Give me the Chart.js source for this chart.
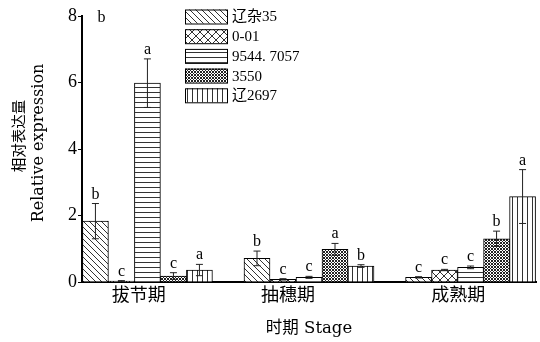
<!DOCTYPE html>
<html>
<head>
<meta charset="utf-8">
<script src="https://cdn.jsdelivr.net/npm/chart.js@4.4.1/dist/chart.umd.min.js"></script>
<style>
  html, body { margin: 0; padding: 0; background: #fff; }
  #wrap { width: 540px; height: 342px; position: relative; }
</style>
</head>
<body>
<div id="wrap"><canvas id="chart"></canvas></div>
<script>
// Stages and varieties
const stages = ['拔节期', '抽穗期', '成熟期'];
const varieties = ['辽杂35', '0-01', '9544. 7057', '3550', '辽2697'];

// Relative expression per variety, one value per stage
const liaoza35  = [1.83, 0.71, 0.14];
const v0_01     = [0.03, 0.08, 0.36];
const v9544     = [5.98, 0.14, 0.44];
const v3550     = [0.18, 0.98, 1.30];
const liao2697  = [0.36, 0.48, 2.57];

// Standard errors
const liaoza35Err = [0.53, 0.22, 0.02];
const v0_01Err    = [0.01, 0.02, 0.02];
const v9544Err    = [0.73, 0.03, 0.04];
const v3550Err    = [0.10, 0.18, 0.23];
const liao2697Err = [0.17, 0.04, 0.81];

// Significance letters
const liaoza35Sig = ['b', 'b', 'c'];
const v0_01Sig    = ['c', 'c', 'c'];
const v9544Sig    = ['a', 'c', 'c'];
const v3550Sig    = ['c', 'a', 'b'];
const liao2697Sig = ['a', 'b', 'a'];

// Y axis ticks
const yTicks = [0, 2, 4, 6, 8];
// Where the stage names sit along the x axis
const stageTickAt = [-0.054, 0.870, 1.923];

const seriesValues = [liaoza35, v0_01, v9544, v3550, liao2697];
const seriesErr = [liaoza35Err, v0_01Err, v9544Err, v3550Err, liao2697Err];
const seriesSig = [liaoza35Sig, v0_01Sig, v9544Sig, v3550Sig, liao2697Sig];

const SERIF = '"Liberation Serif", "Noto Sans CJK SC", serif';
const TITLE_SERIF = '"DejaVu Serif", "Noto Sans CJK SC", serif';

// Monochrome hatch fills
function hatch(kind) {
  const c = document.createElement('canvas');
  const g = c.getContext('2d');
  let s = 6;
  if (kind === 'cross') s = 8;
  if (kind === 'dense') s = 3;
  if (kind === 'h' || kind === 'v') s = 5;
  c.width = s; c.height = s;
  g.fillStyle = '#fff';
  g.fillRect(0, 0, s, s);
  g.strokeStyle = kind === 'dense' ? '#222' : '#333';
  g.lineWidth = 1;
  g.beginPath();
  if (kind === 'diag' || kind === 'cross' || kind === 'dense') {
    for (const o of [-s, 0, s]) { g.moveTo(o, 0); g.lineTo(o + s, s); }
  }
  if (kind === 'cross' || kind === 'dense') {
    for (const o of [-s, 0, s]) { g.moveTo(o + s, 0); g.lineTo(o, s); }
  }
  if (kind === 'h') { g.moveTo(0, 2.5); g.lineTo(s, 2.5); }
  if (kind === 'v') { g.moveTo(2.5, 0); g.lineTo(2.5, s); }
  g.stroke();
  return g.createPattern(c, 'repeat');
}
const fills = [hatch('diag'), hatch('cross'), hatch('h'), hatch('dense'), hatch('v')];

// Error bars and significance letters on top of each bar
const errorBars = {
  id: 'errorBars',
  afterDatasetsDraw(chart) {
    const { ctx } = chart;
    const y = chart.scales.y;
    ctx.save();
    ctx.strokeStyle = '#222';
    ctx.lineWidth = 1;
    ctx.fillStyle = '#000';
    ctx.font = '16px ' + SERIF;
    ctx.textAlign = 'center';
    ctx.textBaseline = 'alphabetic';
    chart.data.datasets.forEach((ds, i) => {
      const meta = chart.getDatasetMeta(i);
      meta.data.forEach((bar, j) => {
        const v = ds.data[j].y;
        const e = ds.errors[j];
        const yt = y.getPixelForValue(v + e);
        const yb = y.getPixelForValue(Math.max(0, v - e));
        const x = bar.x;
        ctx.beginPath();
        ctx.moveTo(x, yb); ctx.lineTo(x, yt);
        ctx.moveTo(x - 3.5, yt); ctx.lineTo(x + 3.5, yt);
        ctx.moveTo(x - 3.5, yb); ctx.lineTo(x + 3.5, yb);
        ctx.stroke();
        ctx.fillText(ds.letters[j], x, yt - 5);
      });
    });
    ctx.restore();
  }
};

// Legend box, axis title and the loose letter at the top of the axis
const decorations = {
  id: 'decorations',
  afterDraw(chart) {
    const { ctx, chartArea } = chart;
    ctx.save();
    // legend
    ctx.font = '15px ' + SERIF;
    ctx.textAlign = 'left';
    ctx.textBaseline = 'middle';
    chart.data.datasets.forEach((ds, i) => {
      const bx = 185, by = 9.5 + i * 19.7, bw = 42, bh = 14;
      ctx.fillStyle = ds.backgroundColor;
      ctx.fillRect(bx, by, bw, bh);
      ctx.strokeStyle = '#000';
      ctx.lineWidth = 1;
      ctx.strokeRect(bx + 0.5, by + 0.5, bw, bh);
      ctx.fillStyle = '#000';
      ctx.fillText(ds.label, bx + 47, by + bh / 2 + 1);
    });
    // y axis title, two lines
    ctx.textAlign = 'center';
    ctx.textBaseline = 'middle';
    ctx.fillStyle = '#000';
    ctx.save();
    ctx.translate(20, 136);
    ctx.rotate(-Math.PI / 2);
    ctx.font = '14.5px ' + TITLE_SERIF;
    ctx.fillText('相对表达量', 0, 0);
    ctx.restore();
    ctx.save();
    ctx.translate(38.5, 143);
    ctx.rotate(-Math.PI / 2);
    ctx.font = '16px ' + TITLE_SERIF;
    ctx.fillText('Relative expression', 0, 0);
    ctx.restore();
    // loose letter near the top of the y axis
    ctx.font = '16px ' + SERIF;
    ctx.textAlign = 'center';
    ctx.textBaseline = 'alphabetic';
    ctx.fillText('b', chartArea.left + 19.5, chartArea.top + 6);
    ctx.restore();
  }
};

new Chart(document.getElementById('chart'), {
  type: 'bar',
  data: {
    datasets: varieties.map((name, i) => ({
      label: name,
      data: seriesValues[i].map((v, j) => ({ x: j, y: v })),
      errors: seriesErr[i],
      letters: seriesSig[i],
      backgroundColor: fills[i],
      borderColor: '#000',
      borderWidth: 1,
      barThickness: 26
    }))
  },
  options: {
    responsive: true,
    maintainAspectRatio: false,
    animation: false,
    layout: { padding: { top: 16, right: 4, left: 0, bottom: 0 } },
    plugins: { legend: { display: false }, tooltip: { enabled: false } },
    scales: {
      x: {
        type: 'linear',
        min: -0.405,
        max: 2.405,
        offset: false,
        grid: { display: false, drawTicks: false },
        border: { display: true, width: 2, color: '#000' },
        afterBuildTicks: (scale) => { scale.ticks = stageTickAt.map(value => ({ value })); },
        ticks: {
          autoSkip: false,
          maxRotation: 0,
          padding: 3,
          color: '#000',
          font: { family: SERIF, size: 18 },
          callback: (value, index) => stages[index]
        },
        title: {
          display: true,
          text: '时期 Stage',
          color: '#000',
          font: { family: TITLE_SERIF, size: 16.5 },
          padding: { top: 0, bottom: 3 }
        },
        afterFit: (scale) => { scale.height = 60; }
      },
      y: {
        min: 0,
        max: 8,
        afterBuildTicks: (scale) => { scale.ticks = yTicks.map(value => ({ value })); },
        grid: { drawOnChartArea: false, drawTicks: true, tickLength: 4, color: '#000' },
        border: { display: true, width: 2, color: '#000' },
        ticks: {
          padding: 1,
          color: '#000',
          font: { family: SERIF, size: 18 }
        },
        afterFit: (scale) => { scale.width = 82; }
      }
    }
  },
  plugins: [errorBars, decorations]
});
</script>
</body>
</html>
